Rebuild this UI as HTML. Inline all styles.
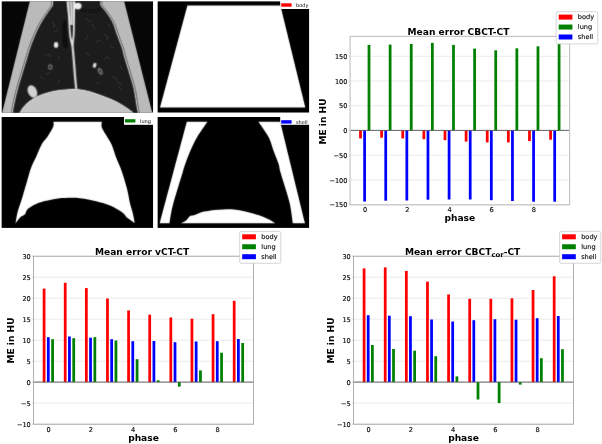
<!DOCTYPE html>
<html><head><meta charset="utf-8"><title>Mean error figure</title>
<style>html,body{margin:0;padding:0;background:#fff;}svg{display:block;}text{font-family:"DejaVu Sans","Liberation Sans",sans-serif;fill:#0a0a0a;}.tk{font-size:6.6px;stroke:#0a0a0a;stroke-width:0.15px;}.lg{font-size:6.6px;stroke:#0a0a0a;stroke-width:0.12px;}.sl{font-size:5px;fill:#000;}.b{font-weight:bold;fill:#000;}</style></head><body>
<svg width="602" height="444" viewBox="0 0 602 444">
<defs><filter id="bl" x="-5%" y="-5%" width="110%" height="110%"><feConvolveMatrix order="3" kernelMatrix="0.01 0.08 0.01 0.08 0.64 0.08 0.01 0.08 0.01" edgeMode="duplicate" preserveAlpha="false"/></filter><filter id="bl2" x="-20%" y="-20%" width="140%" height="140%"><feGaussianBlur stdDeviation="0.8"/></filter><filter id="bl3" x="-20%" y="-20%" width="140%" height="140%"><feConvolveMatrix order="3" kernelMatrix="0.04 0.12 0.04 0.12 0.36 0.12 0.04 0.12 0.04" edgeMode="duplicate" preserveAlpha="false"/></filter><filter id="bm" x="-5%" y="-5%" width="110%" height="110%"><feConvolveMatrix order="3" kernelMatrix="0.01 0.08 0.01 0.08 0.64 0.08 0.01 0.08 0.01" edgeMode="duplicate" preserveAlpha="false"/></filter><clipPath id="c1"><rect x="1.5" y="1.2" width="151.7" height="111.5"/></clipPath><clipPath id="c2"><rect x="157.4" y="1.2" width="151.9" height="111.5"/></clipPath><clipPath id="c3"><rect x="1.4" y="117" width="151.8" height="110.9"/></clipPath><clipPath id="c4"><rect x="157.4" y="117" width="151.9" height="110.9"/></clipPath></defs>
<rect width="602" height="444" fill="#fff"/>
<g clip-path="url(#c1)">
<rect x="1.5" y="1.2" width="151.7" height="111.5" fill="#060606"/>
<g filter="url(#bl)">
<path d="M30,0 L124,0 L152,113 L2,113 Z" fill="#1d1d1d"/>
<path d="M2.3,113 C6.95,94.17 25.55,18.83 30.2,0 L53,0 C53,0.83 53,4.17 53,5 L53,5 C52.8,5.33 53.63,4.25 51.8,7 C49.97,9.75 44.75,16.83 42,21.5 C39.25,26.17 37.2,30.75 35.3,35 C33.4,39.25 31.95,43.17 30.6,47 C29.25,50.83 29.33,50.92 27.2,58 C25.07,65.08 20.07,81.17 17.8,89.5 C15.53,97.83 14.43,104.08 13.6,108 C12.77,111.92 12.93,112.17 12.8,113 Z" fill="#bababa"/>
<path d="M51.4,0 L51.4,5 C51.2,5.33 52.03,4.25 50.2,7 C48.37,9.75 43.15,16.83 40.4,21.5 C37.65,26.17 35.6,30.75 33.7,35 C31.8,39.25 30.35,43.17 29,47 C27.65,50.83 27.73,50.92 25.6,58 C23.47,65.08 18.47,81.17 16.2,89.5 C13.93,97.83 12.83,104.08 12,108 C11.17,111.92 11.33,112.17 11.2,113" fill="none" stroke="#505050" stroke-width="0.8"/>
<path d="M152.6,113 C147.8,94.17 128.6,18.83 123.8,0 L100.3,0 C100.3,0.83 100.3,4.17 100.3,5 L100.3,5 C100.55,5.33 100.85,5.83 101.8,7 C102.75,8.17 104.2,9.42 106,12 C107.8,14.58 110.7,18.5 112.6,22.5 C114.5,26.5 115.83,31.72 117.4,36 C118.97,40.28 120.87,44.7 122,48.2 C123.13,51.7 122.93,52.62 124.2,57 C125.47,61.38 128,69.08 129.6,74.5 C131.2,79.92 132.6,84.03 133.8,89.5 C135,94.97 136.1,103.38 136.8,107.3 C137.5,111.22 137.8,112.05 138,113 Z" fill="#bababa"/>
<path d="M101.9,0 L101.9,5 C102.15,5.33 102.45,5.83 103.4,7 C104.35,8.17 105.8,9.42 107.6,12 C109.4,14.58 112.3,18.5 114.2,22.5 C116.1,26.5 117.43,31.72 119,36 C120.57,40.28 122.47,44.7 123.6,48.2 C124.73,51.7 124.53,52.62 125.8,57 C127.07,61.38 129.6,69.08 131.2,74.5 C132.8,79.92 134.2,84.03 135.4,89.5 C136.6,94.97 137.7,103.38 138.4,107.3 C139.1,111.22 139.4,112.05 139.6,113" fill="none" stroke="#505050" stroke-width="0.8"/>
<path d="M80,7 Q92,11.5 101,7 L102,11 Q92,15.5 80,11 Z" fill="#121212"/>
<path d="M19.9,113 C20.73,111.78 22.68,108.02 24.9,105.7 C27.12,103.38 30.43,100.88 33.2,99.1 C35.97,97.32 37.9,96.3 41.5,95 C45.1,93.7 50.72,92.13 54.8,91.3 C58.88,90.47 62.67,90.3 66,90 C69.33,89.7 71.8,89.4 74.8,89.5 C77.8,89.6 80.93,90.02 84,90.6 C87.07,91.18 88.9,91.58 93.2,93 C97.5,94.42 105.08,97.12 109.8,99.1 C114.52,101.08 117.9,102.82 121.5,104.9 C125.1,106.98 129.52,110.25 131.4,111.6 C133.28,112.95 132.57,112.77 132.8,113 Z" fill="#c4c4c4"/>
<path d="M19.9,113 C20.73,111.78 22.68,108.02 24.9,105.7 C27.12,103.38 30.43,100.88 33.2,99.1 C35.97,97.32 37.9,96.3 41.5,95 C45.1,93.7 50.72,92.13 54.8,91.3 C58.88,90.47 62.67,90.3 66,90 C69.33,89.7 71.8,89.4 74.8,89.5 C77.8,89.6 80.93,90.02 84,90.6 C87.07,91.18 88.9,91.58 93.2,93 C97.5,94.42 105.08,97.12 109.8,99.1 C114.52,101.08 117.9,102.82 121.5,104.9 C125.1,106.98 129.52,110.25 131.4,111.6 C133.28,112.95 132.57,112.77 132.8,113" fill="none" stroke="#dadada" stroke-width="1"/>
</g>
<g filter="url(#bl3)">
<ellipse cx="32.4" cy="91.5" rx="4.5" ry="6.6" fill="#d2d2d2" transform="rotate(-24 32.4 91.5)"/>
<ellipse cx="77.8" cy="6.1" rx="3.8" ry="3.3" fill="#ececec"/>
<path d="M64.6,22 C64,30 64.4,38 65.6,46" fill="none" stroke="#080808" stroke-width="3.6" stroke-linecap="round"/>
<path d="M66.8,0 L68.8,14 L69.6,25 L73.8,25 L74.2,14 L74.8,0 Z" fill="#8c8c8c"/>
<path d="M67.4,0 C68,8 68.9,14 69.2,20 C69.5,26 69.6,32 70.4,37 C70.9,40 71.6,43 72.3,45.5" fill="none" stroke="#f4f4f4" stroke-width="1.7"/>
<path d="M74.2,0 C74.3,8 74.1,14 74,20 C73.9,26 73.9,32 73.5,37 C73.2,40 72.9,43 72.5,45.5" fill="none" stroke="#f4f4f4" stroke-width="1.7"/>
<path d="M70.6,0 C71,5 71.8,9 71.6,14 C71.5,18 71.2,21 71.5,25" fill="none" stroke="#e4e4e4" stroke-width="1.3"/>
<path d="M72.3,44 C73.6,56 74.4,68 75,76 C75.4,81 75.8,85 76.2,88.5" fill="none" stroke="#e0e0e0" stroke-width="2.2" stroke-linecap="round"/>
<ellipse cx="56.1" cy="44.9" rx="2.2" ry="2.9" fill="#e6e6e6"/>
<ellipse cx="50.3" cy="67" rx="1.7" ry="2.1" fill="#030303" stroke="#7a7a7a" stroke-width="1.1"/>
<ellipse cx="100.2" cy="71.4" rx="1.5" ry="2.9" fill="#030303" stroke="#8a8a8a" stroke-width="1.1" transform="rotate(-28 100.2 71.4)"/>
<rect x="93.1" y="63" width="3.1" height="4.6" rx="0.8" fill="#e2e2e2" transform="rotate(18 94.6 65.3)"/>
</g>
<g filter="url(#bl)" stroke="#3c3c3c" stroke-width="0.8" fill="none">
<path d="M52,22 l3,3 l-2,3"/>
<path d="M58,30 l-4,2"/>
<path d="M86,18 l4,4 l2,-1"/>
<path d="M92,24 l3,5"/>
<path d="M104,34 l4,3 l-1,3"/>
<path d="M96,42 l5,-2"/>
<path d="M110,46 l4,2"/>
<path d="M45,56 l4,-2 l2,3"/>
<path d="M50,72 l-4,3"/>
<path d="M86,52 l3,4"/>
<path d="M104,60 l3,-3 l3,2"/>
<path d="M112,76 l4,3 l3,4 l3,2"/>
<path d="M118,86 l4,4"/>
<path d="M96,84 l4,-2"/>
<path d="M60,80 l-3,4"/>
<path d="M40,76 l3,3"/>
<path d="M88,36 l-3,4"/>
<path d="M58,56 l2,4"/>
<path d="M108,24 l2,3"/>
<path d="M120,66 l3,4"/>
</g>
</g>
<g clip-path="url(#c2)"><rect x="157.4" y="1.2" width="151.9" height="111.5" fill="#000"/>
<path d="M187.4,5.6 L280.4,5.6 L305.3,107.4 L160,107.4 Z" fill="#fff" filter="url(#bm)"/></g>
<rect x="280.2" y="0" width="30" height="9" fill="#fff"/>
<rect x="281.2" y="3.3" width="10.4" height="3.4" fill="#ff0000"/>
<text class="sl" x="296" y="6.9">body</text>
<g clip-path="url(#c3)"><rect x="1.4" y="117" width="151.8" height="110.9" fill="#000"/>
<path d="M53.4,121.7 C53.37,122.55 54.22,124.25 53.2,126.8 C52.18,129.35 49.17,134.18 47.3,137 C45.43,139.82 43.8,140.55 42,143.7 C40.2,146.85 38.33,151.85 36.5,155.9 C34.67,159.95 32.68,163.4 31,168 C29.32,172.6 27.97,178.22 26.4,183.5 C24.83,188.78 23.07,194.97 21.6,199.7 C20.13,204.43 18.62,207.95 17.6,211.9 C16.58,215.85 15.85,221.48 15.5,223.4 L15.5,223.4 C16.3,222.38 18.72,218.82 20.3,217.3 C21.88,215.78 23.88,215.53 25,214.3 C26.12,213.07 25.53,211.43 27,209.9 C28.47,208.37 30.87,206.57 33.8,205.1 C36.73,203.63 40.55,202.22 44.6,201.1 C48.65,199.98 53.6,198.97 58.1,198.4 C62.6,197.83 67.95,197.73 71.6,197.7 C75.25,197.67 77.02,197.87 80,198.2 C82.98,198.53 85.67,198.88 89.5,199.7 C93.33,200.52 98.95,201.85 103,203.1 C107.05,204.35 110.42,205.52 113.8,207.2 C117.18,208.88 121.15,211.52 123.3,213.2 C125.45,214.88 125.35,216.05 126.7,217.3 C128.05,218.55 130.05,219.73 131.4,220.7 C132.75,221.67 134.23,222.7 134.8,223.1 L134.8,223.1 C134.47,221.45 133.58,216.42 132.8,213.2 C132.02,209.98 131.12,208.07 130.1,203.8 C129.08,199.53 128.17,193.23 126.7,187.6 C125.23,181.97 123,174.83 121.3,170 C119.6,165.17 118.08,162.75 116.5,158.6 C114.92,154.45 113.48,148.93 111.8,145.1 C110.12,141.27 108.07,138.53 106.4,135.6 C104.73,132.67 102.57,129.82 101.8,127.5 C101.03,125.18 101.8,122.67 101.8,121.7 Z" fill="#fff" filter="url(#bm)"/></g>
<rect x="124" y="114" width="30" height="10.8" fill="#fff"/>
<rect x="125" y="119.2" width="10.4" height="3.3" fill="#008000"/>
<text class="sl" x="140" y="122.7">lung</text>
<g clip-path="url(#c4)"><rect x="157.4" y="117" width="151.9" height="110.9" fill="#000"/><g filter="url(#bm)" fill="#fff">
<path d="M159.7,223.2 C164.22,206.28 182.28,138.62 186.8,121.7 L207.4,121.7 C205.7,124.25 200.02,132.2 197.2,137 C194.38,141.8 192.4,146.23 190.5,150.5 C188.6,154.77 187.08,159.02 185.8,162.6 C184.52,166.18 184.95,164.92 182.8,172 C180.65,179.08 175.12,196.57 172.9,205.1 C170.68,213.63 170.07,220.18 169.5,223.2 Z"/>
<path d="M280.2,121.7 C284.33,138.62 300.87,206.28 305,223.2 L292.8,223.2 C292.35,220.18 291.23,210.58 290.1,205.1 C288.97,199.62 287.62,195.82 286,190.3 C284.38,184.78 281.63,176.38 280.4,172 C279.17,167.62 279.68,167.37 278.6,164 C277.52,160.63 275.47,156.08 273.9,151.8 C272.33,147.52 271.12,142.35 269.2,138.3 C267.28,134.25 264.2,130.27 262.4,127.5 C260.6,124.73 259.07,122.67 258.4,121.7 Z"/>
<path d="M181,223.2 C181.8,222.78 184.33,221.87 185.8,220.7 C187.27,219.53 188.35,217.15 189.8,216.2 C191.25,215.25 192.13,215.77 194.5,215 C196.87,214.23 200.62,212.45 204,211.6 C207.38,210.75 211.47,210.27 214.8,209.9 C218.13,209.53 220.8,209.45 224,209.4 C227.2,209.35 230.42,209.23 234,209.6 C237.58,209.97 241.33,210.65 245.5,211.6 C249.67,212.55 255.17,214.02 259,215.3 C262.83,216.58 265.8,217.98 268.5,219.3 C271.2,220.62 274.08,222.55 275.2,223.2 Z"/>
</g></g>
<rect x="280.2" y="114" width="30" height="10.8" fill="#fff"/>
<rect x="281.2" y="120.2" width="10.4" height="3.4" fill="#0000ff"/>
<text class="sl" x="296" y="123.7">shell</text>
<line x1="350.1" x2="569.6" y1="56.3" y2="56.3" stroke="#e2e2e2" stroke-width="0.7"/>
<line x1="350.1" x2="569.6" y1="81" y2="81" stroke="#e2e2e2" stroke-width="0.7"/>
<line x1="350.1" x2="569.6" y1="105.7" y2="105.7" stroke="#e2e2e2" stroke-width="0.7"/>
<line x1="350.1" x2="569.6" y1="130.4" y2="130.4" stroke="#e2e2e2" stroke-width="0.7"/>
<line x1="350.1" x2="569.6" y1="155.2" y2="155.2" stroke="#e2e2e2" stroke-width="0.7"/>
<line x1="350.1" x2="569.6" y1="180" y2="180" stroke="#e2e2e2" stroke-width="0.7"/>
<line x1="350.1" x2="569.6" y1="204.8" y2="204.8" stroke="#e2e2e2" stroke-width="0.7"/>
<rect x="359.12" y="130.4" width="2.75" height="8" fill="#ff0000"/>
<rect x="380.25" y="130.4" width="2.75" height="7.3" fill="#ff0000"/>
<rect x="401.37" y="130.4" width="2.75" height="8" fill="#ff0000"/>
<rect x="422.49" y="130.4" width="2.75" height="8.8" fill="#ff0000"/>
<rect x="443.61" y="130.4" width="2.75" height="9.8" fill="#ff0000"/>
<rect x="464.73" y="130.4" width="2.75" height="11.2" fill="#ff0000"/>
<rect x="485.85" y="130.4" width="2.75" height="12" fill="#ff0000"/>
<rect x="506.97" y="130.4" width="2.75" height="12" fill="#ff0000"/>
<rect x="528.09" y="130.4" width="2.75" height="10.7" fill="#ff0000"/>
<rect x="549.21" y="130.4" width="2.75" height="9.3" fill="#ff0000"/>
<rect x="363.23" y="130.4" width="2.75" height="71.1" fill="#0000ff"/>
<rect x="384.35" y="130.4" width="2.75" height="70.3" fill="#0000ff"/>
<rect x="405.47" y="130.4" width="2.75" height="70.1" fill="#0000ff"/>
<rect x="426.59" y="130.4" width="2.75" height="69.3" fill="#0000ff"/>
<rect x="447.71" y="130.4" width="2.75" height="69.1" fill="#0000ff"/>
<rect x="468.83" y="130.4" width="2.75" height="69.1" fill="#0000ff"/>
<rect x="489.95" y="130.4" width="2.75" height="69.8" fill="#0000ff"/>
<rect x="511.07" y="130.4" width="2.75" height="70.6" fill="#0000ff"/>
<rect x="532.19" y="130.4" width="2.75" height="71.3" fill="#0000ff"/>
<rect x="553.31" y="130.4" width="2.75" height="71.3" fill="#0000ff"/>
<rect x="367.62" y="44.9" width="2.75" height="85.5" fill="#008000"/>
<rect x="388.75" y="44.6" width="2.75" height="85.8" fill="#008000"/>
<rect x="409.87" y="43.9" width="2.75" height="86.5" fill="#008000"/>
<rect x="430.99" y="42.9" width="2.75" height="87.5" fill="#008000"/>
<rect x="452.11" y="44.9" width="2.75" height="85.5" fill="#008000"/>
<rect x="473.23" y="48.6" width="2.75" height="81.8" fill="#008000"/>
<rect x="494.35" y="50.3" width="2.75" height="80.1" fill="#008000"/>
<rect x="515.47" y="48.3" width="2.75" height="82.1" fill="#008000"/>
<rect x="536.59" y="46.3" width="2.75" height="84.1" fill="#008000"/>
<rect x="557.71" y="44" width="2.75" height="86.4" fill="#008000"/>
<line x1="350.1" x2="569.6" y1="130.4" y2="130.4" stroke="#555" stroke-width="0.9"/>
<rect x="350.1" y="36.4" width="219.5" height="168.4" fill="none" stroke="#c6c6c6" stroke-width="1.2"/>
<line x1="348.6" x2="350.1" y1="56.3" y2="56.3" stroke="#c4c4c4" stroke-width="0.7"/>
<text class="tk" text-anchor="end" x="347.5" y="58.8">150</text>
<line x1="348.6" x2="350.1" y1="81" y2="81" stroke="#c4c4c4" stroke-width="0.7"/>
<text class="tk" text-anchor="end" x="347.5" y="83.5">100</text>
<line x1="348.6" x2="350.1" y1="105.7" y2="105.7" stroke="#c4c4c4" stroke-width="0.7"/>
<text class="tk" text-anchor="end" x="347.5" y="108.2">50</text>
<line x1="348.6" x2="350.1" y1="130.4" y2="130.4" stroke="#c4c4c4" stroke-width="0.7"/>
<text class="tk" text-anchor="end" x="347.5" y="132.9">0</text>
<line x1="348.6" x2="350.1" y1="155.2" y2="155.2" stroke="#c4c4c4" stroke-width="0.7"/>
<text class="tk" text-anchor="end" x="347.5" y="157.7">−50</text>
<line x1="348.6" x2="350.1" y1="180" y2="180" stroke="#c4c4c4" stroke-width="0.7"/>
<text class="tk" text-anchor="end" x="347.5" y="182.5">−100</text>
<line x1="348.6" x2="350.1" y1="204.8" y2="204.8" stroke="#c4c4c4" stroke-width="0.7"/>
<text class="tk" text-anchor="end" x="347.5" y="207.3">−150</text>
<line x1="364.6" x2="364.6" y1="204.8" y2="206.3" stroke="#c4c4c4" stroke-width="0.7"/>
<text class="tk" text-anchor="middle" x="365" y="212.2">0</text>
<line x1="406.84" x2="406.84" y1="204.8" y2="206.3" stroke="#c4c4c4" stroke-width="0.7"/>
<text class="tk" text-anchor="middle" x="407.24" y="212.2">2</text>
<line x1="449.08" x2="449.08" y1="204.8" y2="206.3" stroke="#c4c4c4" stroke-width="0.7"/>
<text class="tk" text-anchor="middle" x="449.48" y="212.2">4</text>
<line x1="491.32" x2="491.32" y1="204.8" y2="206.3" stroke="#c4c4c4" stroke-width="0.7"/>
<text class="tk" text-anchor="middle" x="491.72" y="212.2">6</text>
<line x1="533.56" x2="533.56" y1="204.8" y2="206.3" stroke="#c4c4c4" stroke-width="0.7"/>
<text class="tk" text-anchor="middle" x="533.96" y="212.2">8</text>
<text class="b" font-size="9.1" text-anchor="middle" x="458.45" y="34.7">Mean error CBCT-CT</text>
<text class="b" font-size="9.1" text-anchor="middle" x="459.85" y="221.3">phase</text>
<text class="b" font-size="9.1" text-anchor="middle" transform="translate(325.8 121.5) rotate(-90)">ME in HU</text>
<rect x="556.2" y="11.7" width="41.6" height="32.2" rx="1.4" fill="#fff" stroke="#cccccc" stroke-width="0.8"/>
<rect x="558.7" y="14.6" width="13.7" height="5" fill="#ff0000"/>
<text class="lg" x="577.8" y="19.4">body</text>
<rect x="558.7" y="24.55" width="13.7" height="5" fill="#008000"/>
<text class="lg" x="577.8" y="29.35">lung</text>
<rect x="558.7" y="34.5" width="13.7" height="5" fill="#0000ff"/>
<text class="lg" x="577.8" y="39.3">shell</text>
<line x1="33.4" x2="253.6" y1="256.2" y2="256.2" stroke="#e2e2e2" stroke-width="0.7"/>
<line x1="33.4" x2="253.6" y1="277.2" y2="277.2" stroke="#e2e2e2" stroke-width="0.7"/>
<line x1="33.4" x2="253.6" y1="298.2" y2="298.2" stroke="#e2e2e2" stroke-width="0.7"/>
<line x1="33.4" x2="253.6" y1="319.2" y2="319.2" stroke="#e2e2e2" stroke-width="0.7"/>
<line x1="33.4" x2="253.6" y1="340.2" y2="340.2" stroke="#e2e2e2" stroke-width="0.7"/>
<line x1="33.4" x2="253.6" y1="361.2" y2="361.2" stroke="#e2e2e2" stroke-width="0.7"/>
<line x1="33.4" x2="253.6" y1="382.1" y2="382.1" stroke="#e2e2e2" stroke-width="0.7"/>
<line x1="33.4" x2="253.6" y1="403.1" y2="403.1" stroke="#e2e2e2" stroke-width="0.7"/>
<line x1="33.4" x2="253.6" y1="424.1" y2="424.1" stroke="#e2e2e2" stroke-width="0.7"/>
<rect x="42.72" y="288.6" width="2.75" height="93.5" fill="#ff0000"/>
<rect x="63.84" y="282.8" width="2.75" height="99.3" fill="#ff0000"/>
<rect x="84.97" y="288.1" width="2.75" height="94" fill="#ff0000"/>
<rect x="106.08" y="298.5" width="2.75" height="83.6" fill="#ff0000"/>
<rect x="127.2" y="310.5" width="2.75" height="71.6" fill="#ff0000"/>
<rect x="148.32" y="314.7" width="2.75" height="67.4" fill="#ff0000"/>
<rect x="169.44" y="317.5" width="2.75" height="64.6" fill="#ff0000"/>
<rect x="190.56" y="318.7" width="2.75" height="63.4" fill="#ff0000"/>
<rect x="211.69" y="314.2" width="2.75" height="67.9" fill="#ff0000"/>
<rect x="232.81" y="300.8" width="2.75" height="81.3" fill="#ff0000"/>
<rect x="46.92" y="337.2" width="2.75" height="44.9" fill="#0000ff"/>
<rect x="68.05" y="336.5" width="2.75" height="45.6" fill="#0000ff"/>
<rect x="89.16" y="337.7" width="2.75" height="44.4" fill="#0000ff"/>
<rect x="110.28" y="339.2" width="2.75" height="42.9" fill="#0000ff"/>
<rect x="131.41" y="341.2" width="2.75" height="40.9" fill="#0000ff"/>
<rect x="152.53" y="341" width="2.75" height="41.1" fill="#0000ff"/>
<rect x="173.64" y="342.2" width="2.75" height="39.9" fill="#0000ff"/>
<rect x="194.76" y="341.5" width="2.75" height="40.6" fill="#0000ff"/>
<rect x="215.88" y="341.2" width="2.75" height="40.9" fill="#0000ff"/>
<rect x="237" y="339" width="2.75" height="43.1" fill="#0000ff"/>
<rect x="51.22" y="339.2" width="2.75" height="42.9" fill="#008000"/>
<rect x="72.34" y="338.2" width="2.75" height="43.9" fill="#008000"/>
<rect x="93.47" y="337.2" width="2.75" height="44.9" fill="#008000"/>
<rect x="114.58" y="340.5" width="2.75" height="41.6" fill="#008000"/>
<rect x="135.7" y="359.2" width="2.75" height="22.9" fill="#008000"/>
<rect x="156.82" y="380.3" width="2.75" height="1.8" fill="#008000"/>
<rect x="177.94" y="382.1" width="2.75" height="4.5" fill="#008000"/>
<rect x="199.06" y="370.4" width="2.75" height="11.7" fill="#008000"/>
<rect x="220.19" y="352.7" width="2.75" height="29.4" fill="#008000"/>
<rect x="241.31" y="343" width="2.75" height="39.1" fill="#008000"/>
<line x1="33.4" x2="253.6" y1="382.1" y2="382.1" stroke="#555" stroke-width="0.9"/>
<rect x="33.4" y="256.2" width="220.2" height="168" fill="none" stroke="#9c9c9c" stroke-width="0.8"/>
<line x1="31.9" x2="33.4" y1="256.2" y2="256.2" stroke="#c4c4c4" stroke-width="0.7"/>
<text class="tk" text-anchor="end" x="30.8" y="258.7">30</text>
<line x1="31.9" x2="33.4" y1="277.2" y2="277.2" stroke="#c4c4c4" stroke-width="0.7"/>
<text class="tk" text-anchor="end" x="30.8" y="279.7">25</text>
<line x1="31.9" x2="33.4" y1="298.2" y2="298.2" stroke="#c4c4c4" stroke-width="0.7"/>
<text class="tk" text-anchor="end" x="30.8" y="300.7">20</text>
<line x1="31.9" x2="33.4" y1="319.2" y2="319.2" stroke="#c4c4c4" stroke-width="0.7"/>
<text class="tk" text-anchor="end" x="30.8" y="321.7">15</text>
<line x1="31.9" x2="33.4" y1="340.2" y2="340.2" stroke="#c4c4c4" stroke-width="0.7"/>
<text class="tk" text-anchor="end" x="30.8" y="342.7">10</text>
<line x1="31.9" x2="33.4" y1="361.2" y2="361.2" stroke="#c4c4c4" stroke-width="0.7"/>
<text class="tk" text-anchor="end" x="30.8" y="363.7">5</text>
<line x1="31.9" x2="33.4" y1="382.1" y2="382.1" stroke="#c4c4c4" stroke-width="0.7"/>
<text class="tk" text-anchor="end" x="30.8" y="384.6">0</text>
<line x1="31.9" x2="33.4" y1="403.1" y2="403.1" stroke="#c4c4c4" stroke-width="0.7"/>
<text class="tk" text-anchor="end" x="30.8" y="405.6">−5</text>
<line x1="31.9" x2="33.4" y1="424.1" y2="424.1" stroke="#c4c4c4" stroke-width="0.7"/>
<text class="tk" text-anchor="end" x="30.8" y="426.6">−10</text>
<line x1="48.3" x2="48.3" y1="424.2" y2="425.7" stroke="#c4c4c4" stroke-width="0.7"/>
<text class="tk" text-anchor="middle" x="48.7" y="431.6">0</text>
<line x1="90.54" x2="90.54" y1="424.2" y2="425.7" stroke="#c4c4c4" stroke-width="0.7"/>
<text class="tk" text-anchor="middle" x="90.94" y="431.6">2</text>
<line x1="132.78" x2="132.78" y1="424.2" y2="425.7" stroke="#c4c4c4" stroke-width="0.7"/>
<text class="tk" text-anchor="middle" x="133.18" y="431.6">4</text>
<line x1="175.02" x2="175.02" y1="424.2" y2="425.7" stroke="#c4c4c4" stroke-width="0.7"/>
<text class="tk" text-anchor="middle" x="175.42" y="431.6">6</text>
<line x1="217.26" x2="217.26" y1="424.2" y2="425.7" stroke="#c4c4c4" stroke-width="0.7"/>
<text class="tk" text-anchor="middle" x="217.66" y="431.6">8</text>
<text class="b" font-size="9.1" text-anchor="middle" x="142.1" y="254.6">Mean error vCT-CT</text>
<text class="b" font-size="9.1" text-anchor="middle" x="143.5" y="441.3">phase</text>
<text class="b" font-size="9.1" text-anchor="middle" transform="translate(13.5 340.5) rotate(-90)">ME in HU</text>
<rect x="239.7" y="231.4" width="41.1" height="31.9" rx="1.4" fill="#fff" stroke="#cccccc" stroke-width="0.8"/>
<rect x="242.2" y="234.3" width="13.7" height="5" fill="#ff0000"/>
<text class="lg" x="261.3" y="239.1">body</text>
<rect x="242.2" y="244.25" width="13.7" height="5" fill="#008000"/>
<text class="lg" x="261.3" y="249.05">lung</text>
<rect x="242.2" y="254.2" width="13.7" height="5" fill="#0000ff"/>
<text class="lg" x="261.3" y="259">shell</text>
<line x1="353.4" x2="573.6" y1="256.2" y2="256.2" stroke="#e2e2e2" stroke-width="0.7"/>
<line x1="353.4" x2="573.6" y1="277.2" y2="277.2" stroke="#e2e2e2" stroke-width="0.7"/>
<line x1="353.4" x2="573.6" y1="298.2" y2="298.2" stroke="#e2e2e2" stroke-width="0.7"/>
<line x1="353.4" x2="573.6" y1="319.2" y2="319.2" stroke="#e2e2e2" stroke-width="0.7"/>
<line x1="353.4" x2="573.6" y1="340.2" y2="340.2" stroke="#e2e2e2" stroke-width="0.7"/>
<line x1="353.4" x2="573.6" y1="361.2" y2="361.2" stroke="#e2e2e2" stroke-width="0.7"/>
<line x1="353.4" x2="573.6" y1="382.1" y2="382.1" stroke="#e2e2e2" stroke-width="0.7"/>
<line x1="353.4" x2="573.6" y1="403.1" y2="403.1" stroke="#e2e2e2" stroke-width="0.7"/>
<line x1="353.4" x2="573.6" y1="424.1" y2="424.1" stroke="#e2e2e2" stroke-width="0.7"/>
<rect x="362.72" y="268.4" width="2.75" height="113.7" fill="#ff0000"/>
<rect x="383.84" y="267.4" width="2.75" height="114.7" fill="#ff0000"/>
<rect x="404.96" y="270.9" width="2.75" height="111.2" fill="#ff0000"/>
<rect x="426.08" y="281.6" width="2.75" height="100.5" fill="#ff0000"/>
<rect x="447.2" y="294.5" width="2.75" height="87.6" fill="#ff0000"/>
<rect x="468.32" y="298.8" width="2.75" height="83.3" fill="#ff0000"/>
<rect x="489.44" y="298.8" width="2.75" height="83.3" fill="#ff0000"/>
<rect x="510.56" y="298.3" width="2.75" height="83.8" fill="#ff0000"/>
<rect x="531.68" y="290" width="2.75" height="92.1" fill="#ff0000"/>
<rect x="552.8" y="276.3" width="2.75" height="105.8" fill="#ff0000"/>
<rect x="366.82" y="315.2" width="2.75" height="66.9" fill="#0000ff"/>
<rect x="387.94" y="315.7" width="2.75" height="66.4" fill="#0000ff"/>
<rect x="409.06" y="316.2" width="2.75" height="65.9" fill="#0000ff"/>
<rect x="430.19" y="319.5" width="2.75" height="62.6" fill="#0000ff"/>
<rect x="451.31" y="321.5" width="2.75" height="60.6" fill="#0000ff"/>
<rect x="472.43" y="320.2" width="2.75" height="61.9" fill="#0000ff"/>
<rect x="493.54" y="319.2" width="2.75" height="62.9" fill="#0000ff"/>
<rect x="514.66" y="319.7" width="2.75" height="62.4" fill="#0000ff"/>
<rect x="535.78" y="318.2" width="2.75" height="63.9" fill="#0000ff"/>
<rect x="556.9" y="316" width="2.75" height="66.1" fill="#0000ff"/>
<rect x="371.02" y="345" width="2.75" height="37.1" fill="#008000"/>
<rect x="392.14" y="349" width="2.75" height="33.1" fill="#008000"/>
<rect x="413.26" y="350.7" width="2.75" height="31.4" fill="#008000"/>
<rect x="434.38" y="356.2" width="2.75" height="25.9" fill="#008000"/>
<rect x="455.5" y="376.4" width="2.75" height="5.7" fill="#008000"/>
<rect x="476.62" y="382.1" width="2.75" height="17.4" fill="#008000"/>
<rect x="497.75" y="382.1" width="2.75" height="20.9" fill="#008000"/>
<rect x="518.87" y="382.1" width="2.75" height="2.5" fill="#008000"/>
<rect x="539.99" y="358.2" width="2.75" height="23.9" fill="#008000"/>
<rect x="561.11" y="349.2" width="2.75" height="32.9" fill="#008000"/>
<line x1="353.4" x2="573.6" y1="382.1" y2="382.1" stroke="#555" stroke-width="0.9"/>
<rect x="353.4" y="256.2" width="220.2" height="168" fill="none" stroke="#9c9c9c" stroke-width="0.8"/>
<line x1="351.9" x2="353.4" y1="256.2" y2="256.2" stroke="#c4c4c4" stroke-width="0.7"/>
<text class="tk" text-anchor="end" x="350.8" y="258.7">30</text>
<line x1="351.9" x2="353.4" y1="277.2" y2="277.2" stroke="#c4c4c4" stroke-width="0.7"/>
<text class="tk" text-anchor="end" x="350.8" y="279.7">25</text>
<line x1="351.9" x2="353.4" y1="298.2" y2="298.2" stroke="#c4c4c4" stroke-width="0.7"/>
<text class="tk" text-anchor="end" x="350.8" y="300.7">20</text>
<line x1="351.9" x2="353.4" y1="319.2" y2="319.2" stroke="#c4c4c4" stroke-width="0.7"/>
<text class="tk" text-anchor="end" x="350.8" y="321.7">15</text>
<line x1="351.9" x2="353.4" y1="340.2" y2="340.2" stroke="#c4c4c4" stroke-width="0.7"/>
<text class="tk" text-anchor="end" x="350.8" y="342.7">10</text>
<line x1="351.9" x2="353.4" y1="361.2" y2="361.2" stroke="#c4c4c4" stroke-width="0.7"/>
<text class="tk" text-anchor="end" x="350.8" y="363.7">5</text>
<line x1="351.9" x2="353.4" y1="382.1" y2="382.1" stroke="#c4c4c4" stroke-width="0.7"/>
<text class="tk" text-anchor="end" x="350.8" y="384.6">0</text>
<line x1="351.9" x2="353.4" y1="403.1" y2="403.1" stroke="#c4c4c4" stroke-width="0.7"/>
<text class="tk" text-anchor="end" x="350.8" y="405.6">−5</text>
<line x1="351.9" x2="353.4" y1="424.1" y2="424.1" stroke="#c4c4c4" stroke-width="0.7"/>
<text class="tk" text-anchor="end" x="350.8" y="426.6">−10</text>
<line x1="368.2" x2="368.2" y1="424.2" y2="425.7" stroke="#c4c4c4" stroke-width="0.7"/>
<text class="tk" text-anchor="middle" x="368.6" y="431.6">0</text>
<line x1="410.44" x2="410.44" y1="424.2" y2="425.7" stroke="#c4c4c4" stroke-width="0.7"/>
<text class="tk" text-anchor="middle" x="410.84" y="431.6">2</text>
<line x1="452.68" x2="452.68" y1="424.2" y2="425.7" stroke="#c4c4c4" stroke-width="0.7"/>
<text class="tk" text-anchor="middle" x="453.08" y="431.6">4</text>
<line x1="494.92" x2="494.92" y1="424.2" y2="425.7" stroke="#c4c4c4" stroke-width="0.7"/>
<text class="tk" text-anchor="middle" x="495.32" y="431.6">6</text>
<line x1="537.16" x2="537.16" y1="424.2" y2="425.7" stroke="#c4c4c4" stroke-width="0.7"/>
<text class="tk" text-anchor="middle" x="537.56" y="431.6">8</text>
<text class="b" font-size="9.1" text-anchor="middle" x="462.6" y="254.6">Mean error CBCT<tspan font-size="6.9" dy="2">cor</tspan><tspan dy="-2">-CT</tspan></text>
<text class="b" font-size="9.1" text-anchor="middle" x="463.5" y="441.3">phase</text>
<text class="b" font-size="9.1" text-anchor="middle" transform="translate(333.5 340.5) rotate(-90)">ME in HU</text>
<rect x="559.6" y="231.4" width="41.2" height="31.9" rx="1.4" fill="#fff" stroke="#cccccc" stroke-width="0.8"/>
<rect x="562.1" y="234.3" width="13.7" height="5" fill="#ff0000"/>
<text class="lg" x="581.2" y="239.1">body</text>
<rect x="562.1" y="244.25" width="13.7" height="5" fill="#008000"/>
<text class="lg" x="581.2" y="249.05">lung</text>
<rect x="562.1" y="254.2" width="13.7" height="5" fill="#0000ff"/>
<text class="lg" x="581.2" y="259">shell</text>
</svg></body></html>
